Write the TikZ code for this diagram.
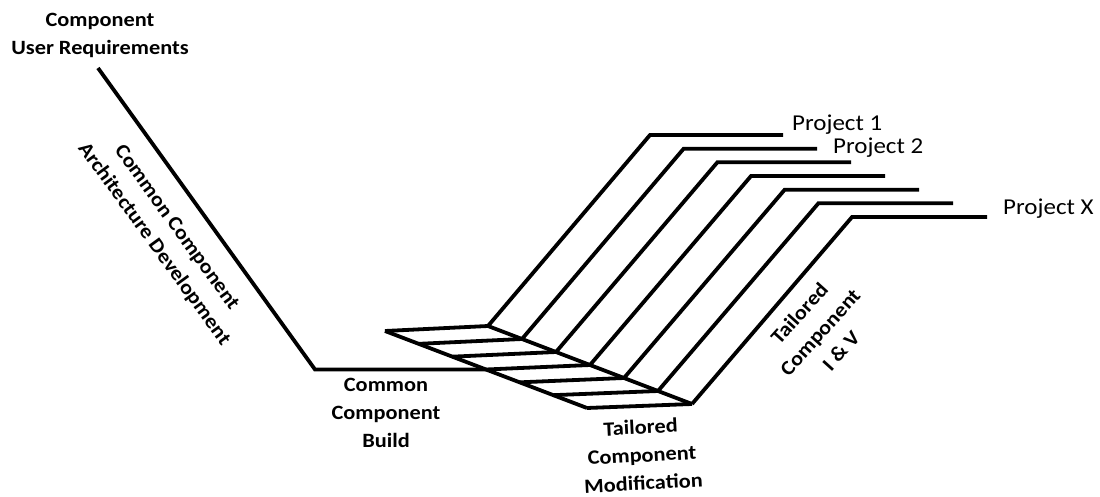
\documentclass[tikz,border=0pt]{standalone}
\usepackage{fontspec}
\setmainfont[FakeStretch=1.1]{Carlito}
\begin{document}
\begin{tikzpicture}[x=1pt,y=-1pt,
  ln/.style={line width=3.8pt, black},
  lbl/.style={font=\bfseries\fontsize{20.3}{28}\selectfont, align=center, inner sep=0pt},
  prj/.style={font=\fontsize{22.7}{26}\selectfont, anchor=west, inner sep=0pt}]
\useasboundingbox (0,0) rectangle (1100,497);
% V branch
\coordinate (vtop) at (98,68);
\coordinate (vcorner) at (315,369.5);
% parallelogram and project lines
\foreach \k in {0,...,6}{
  \coordinate (L\k) at ({385+33.667*\k},{331+12.833*\k});
  \coordinate (R\k) at ({488+34*\k},{326+13*\k});
  \coordinate (T\k) at ({650+33.67*\k},{135+13.67*\k});
  \coordinate (E\k) at ({783+34*\k},{135+13.67*\k});
}
\draw[ln] (vtop) -- (vcorner) -- (L3);
\draw[ln] (L0) -- (L6);
\draw[ln] (R0) -- (R6);
\foreach \k in {0,...,6}{
  \draw[ln] (L\k) -- (R\k);
  \draw[ln] (R\k) -- (T\k) -- (E\k);
}
% labels
\node[lbl] (cur) at (100,35) {Component\\User Requirements};
\node[lbl, rotate=-54] (cca) at (165,236) {Common Component\\Architecture Development};
\node[lbl] (ccb) at (386,413) {Common\\Component\\Build};
\node[lbl, rotate=3] (tcm) at (642,455) {Tailored\\Component\\Modification};
\node[lbl, rotate=48] (tci) at (820,332) {Tailored\\Component\\I \& V};
\node[prj] (p1) at (792,125) {Project 1};
\node[prj] (p2) at (833,148) {Project 2};
\node[prj] (px) at (1003,209) {Project X};
\end{tikzpicture}
\end{document}
